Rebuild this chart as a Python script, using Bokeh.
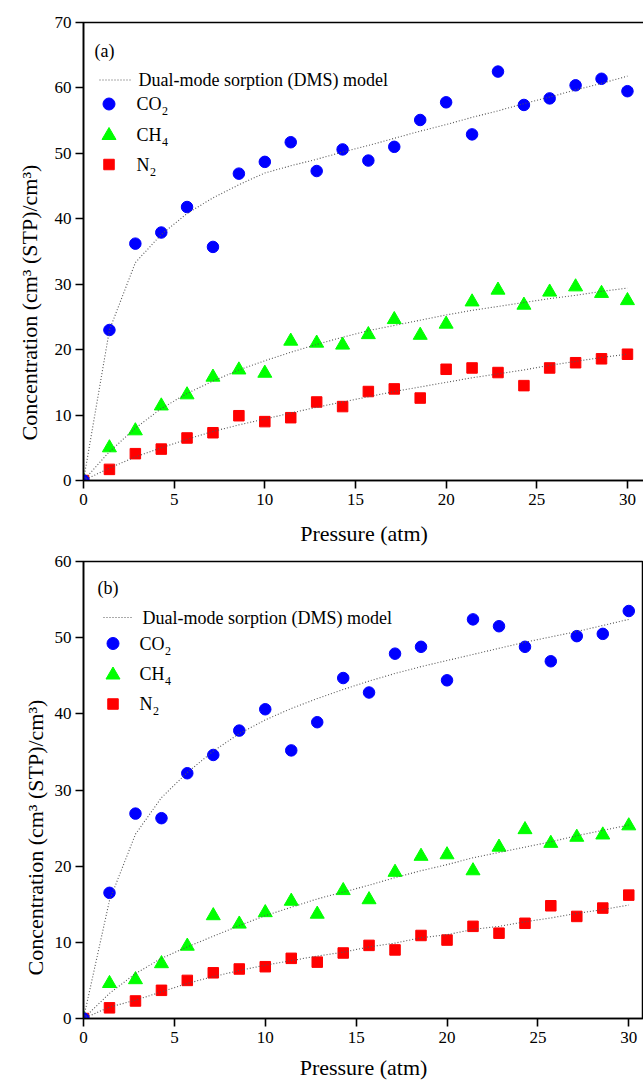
from bokeh.plotting import figure
from bokeh.models import Range1d, FixedTicker, Label, Arrow, BoxAnnotation, PolyAnnotation, Title
from bokeh.layouts import column
from bokeh.embed import file_html
from bokeh.resources import INLINE

# ---------------- data ----------------
pressure = [0, 1.43, 2.86, 4.29, 5.71, 7.14, 8.57, 10.0, 11.43, 12.86, 14.29,
            15.71, 17.14, 18.57, 20.0, 21.43, 22.86, 24.29, 25.71, 27.14, 28.57, 30.0]

# panel (a)
co2_a = [0, 23.0, 36.2, 37.9, 41.8, 35.7, 46.9, 48.7, 51.7, 47.3, 50.6,
         48.9, 51.0, 55.1, 57.8, 52.9, 62.5, 57.4, 58.4, 60.4, 61.4, 59.5]
ch4_a = [0, 5.0, 7.6, 11.4, 13.1, 15.8, 16.9, 16.4, 21.3, 21.0, 20.7,
         22.3, 24.6, 22.2, 23.9, 27.3, 29.1, 26.8, 28.8, 29.6, 28.6, 27.5]
n2_a = [0, 1.7, 4.1, 4.8, 6.5, 7.3, 9.9, 9.0, 9.6, 12.0, 11.3,
        13.6, 14.0, 12.6, 17.0, 17.2, 16.5, 14.5, 17.2, 18.0, 18.6, 19.3]
dms_co2_a = [0, 23.0, 33.3, 37.6, 40.8, 43.2, 45.2, 47.0, 48.1, 49.1, 50.2,
             51.2, 52.3, 53.4, 54.4, 55.5, 56.5, 57.6, 58.6, 59.7, 60.7, 61.8]
dms_ch4_a = [0, 4.4, 8.0, 11.0, 13.3, 15.2, 16.9, 18.3, 19.6, 20.8, 21.9,
             22.9, 23.7, 24.5, 25.3, 26.0, 26.6, 27.2, 27.8, 28.3, 28.9, 29.4]
dms_n2_a = [0, 1.9, 3.6, 5.0, 6.3, 7.5, 8.5, 9.4, 10.3, 11.2, 12.0,
            12.8, 13.6, 14.3, 15.0, 15.7, 16.3, 16.9, 17.6, 18.2, 18.8, 19.3]

# panel (b)
co2_b = [0, 16.5, 26.9, 26.3, 32.2, 34.6, 37.8, 40.6, 35.2, 38.9, 44.7,
         42.8, 47.9, 48.8, 44.4, 52.4, 51.5, 48.8, 46.9, 50.2, 50.5, 53.5]
ch4_b = [0, 4.6, 5.1, 7.2, 9.5, 13.5, 12.4, 13.9, 15.4, 13.7, 16.8,
         15.6, 19.2, 21.3, 21.5, 19.4, 22.5, 24.8, 23.0, 23.8, 24.1, 25.3]
n2_b = [0, 1.4, 2.3, 3.7, 5.0, 6.0, 6.5, 6.8, 7.9, 7.4, 8.6,
        9.6, 9.0, 10.9, 10.3, 12.1, 11.2, 12.5, 14.8, 13.4, 14.5, 16.2]
dms_co2_b = [0, 15.5, 24.2, 29.0, 32.3, 35.1, 37.4, 39.2, 40.7, 42.0, 43.2,
             44.3, 45.3, 46.2, 47.0, 47.8, 48.6, 49.4, 50.1, 50.8, 51.6, 52.4]
dms_ch4_b = [0, 3.3, 5.9, 7.9, 9.4, 10.8, 12.2, 13.5, 14.6, 15.7, 16.6,
             17.5, 18.5, 19.4, 20.2, 21.1, 21.8, 22.5, 23.2, 24.0, 24.7, 25.4]
dms_n2_b = [0, 1.5, 2.4, 3.5, 4.6, 5.5, 6.3, 7.0, 7.6, 8.2, 8.7,
            9.4, 9.9, 10.6, 11.0, 11.7, 12.1, 12.7, 13.2, 13.8, 14.3, 14.9]

x_ticks = [0, 5, 10, 15, 20, 25, 30]
y_ticks_a = [0, 10, 20, 30, 40, 50, 60, 70]
y_ticks_b = [0, 10, 20, 30, 40, 50, 60]

model_label = "Dual-mode sorption (DMS) model"
gas_names = [("CO", "2"), ("CH", "4"), ("N", "2")]
x_title = "Pressure (atm)"
y_title = "Concentration (cm\u00b3 (STP)/cm\u00b3)"

# ---------------- styling ----------------
FONT = "'Liberation Serif'"
BLUE, GREEN, RED = "#0000FF", "#00FF00", "#FF0000"
DMS_COLOR = "#555555"
DMS_DASH = "1 2"


def make_panel(tag, co2, ch4, n2, dco2, dch4, dn2, y_ticks, ymax, xmax,
               fw, fh, bl, br, bt, bb, leg):
    p = figure(frame_width=fw, frame_height=fh, min_border_left=bl,
               min_border_right=br, min_border_top=bt, min_border_bottom=bb,
               x_range=Range1d(0, xmax), y_range=Range1d(0, ymax),
               output_backend="svg", toolbar_location=None,
               background_fill_color="white", border_fill_color="white")
    p.grid.visible = False
    p.outline_line_color = "black"
    p.outline_line_width = 1.5
    p.outline_line_alpha = 1

    for ax in (p.xaxis[0], p.yaxis[0]):
        ax.axis_line_width = 1.6
        ax.axis_line_color = "black"
        ax.major_tick_line_width = 1.6
        ax.major_tick_in = 0
        ax.major_tick_out = 8
        ax.minor_tick_line_color = None
        ax.major_label_text_font = FONT
        ax.major_label_text_font_size = "17px"
        ax.major_label_text_color = "black"
        ax.axis_label_text_font = FONT
        ax.axis_label_text_font_style = "normal"
        ax.axis_label_text_font_size = "22px"
        ax.axis_label_text_color = "black"
    p.xaxis[0].ticker = FixedTicker(ticks=x_ticks)
    p.yaxis[0].ticker = FixedTicker(ticks=y_ticks)
    p.xaxis[0].major_label_standoff = 5
    p.yaxis[0].major_label_standoff = 4
    p.xaxis[0].axis_label = x_title
    p.xaxis[0].axis_label_standoff = leg["xlab_standoff"]

    # y title: the reference places it below the frame centre
    p.add_layout(Title(text=y_title, align="left", offset=leg["ytitle_offset"],
                       standoff=leg["ytitle_standoff"], vertical_align="middle",
                       text_font=FONT, text_font_size="22px", text_font_style="normal",
                       text_color="black"), "left")

    # data points
    p.scatter(pressure, n2, marker="square", size=10.5, color=RED)
    p.scatter(pressure, ch4, marker="triangle", size=14, color=GREEN)
    p.scatter(pressure, co2, marker="circle", size=11.5, color=BLUE)
    # DMS model curves
    for d in (dco2, dch4, dn2):
        p.line(pressure, d, line_color=DMS_COLOR, line_width=1.1, line_dash=DMS_DASH)

    # ----- legend (screen units relative to the frame) -----
    def sy(y_from_top):
        return fh - y_from_top

    p.add_layout(Label(x=leg["tag_x"], y=sy(leg["tag_y"]), x_units="screen", y_units="screen",
                       text=tag, text_font=FONT, text_font_size="18px",
                       text_baseline="middle", text_align="left", text_color="black"))
    r0, r1, r2, r3 = leg["rows"]
    p.add_layout(Arrow(x_start=leg["line_x0"], y_start=sy(r0), x_end=leg["line_x1"], y_end=sy(r0),
                       start_units="screen", end_units="screen", end=None,
                       line_color=DMS_COLOR, line_width=1.1, line_dash=DMS_DASH))
    p.add_layout(Label(x=leg["text_x0"], y=sy(r0), x_units="screen", y_units="screen",
                       text=model_label, text_font=FONT, text_font_size="18px",
                       text_baseline="middle", text_align="left", text_color="black"))
    mx = leg["marker_x"]
    r = 6
    p.add_layout(BoxAnnotation(left=mx - r, right=mx + r, bottom=sy(r1) - r, top=sy(r1) + r,
                               left_units="screen", right_units="screen",
                               bottom_units="screen", top_units="screen",
                               fill_color=BLUE, fill_alpha=1, line_color=BLUE, line_alpha=1,
                               border_radius=r))
    p.add_layout(PolyAnnotation(xs=[mx - 7, mx + 7, mx], ys=[sy(r2) - 5, sy(r2) - 5, sy(r2) + 7],
                                xs_units="screen", ys_units="screen",
                                fill_color=GREEN, fill_alpha=1, line_color=GREEN, line_alpha=1))
    s = 5.25
    p.add_layout(BoxAnnotation(left=mx - s, right=mx + s, bottom=sy(r3) - s, top=sy(r3) + s,
                               left_units="screen", right_units="screen",
                               bottom_units="screen", top_units="screen",
                               fill_color=RED, fill_alpha=1, line_color=RED, line_alpha=1))
    widths = [25.0, 25.0, 13.0]
    for (main, sub), row, w in zip(gas_names, (r1, r2, r3), widths):
        p.add_layout(Label(x=leg["text_x"], y=sy(row), x_units="screen", y_units="screen",
                           text=main, text_font=FONT, text_font_size="18px",
                           text_baseline="middle", text_align="left", text_color="black"))
        p.add_layout(Label(x=leg["text_x"] + w + 0.5, y=sy(row + 7), x_units="screen", y_units="screen",
                           text=sub, text_font=FONT, text_font_size="12px",
                           text_baseline="middle", text_align="left", text_color="black"))
    return p


leg_a = dict(tag_x=11, tag_y=28, rows=(57.5, 81.5, 112, 142), line_x0=16, line_x1=47,
             text_x0=55, text_x=53, marker_x=25.5, xlab_standoff=13,
             ytitle_offset=40, ytitle_standoff=18)
leg_b = dict(tag_x=14, tag_y=26, rows=(56, 82, 112.5, 142.5), line_x0=20, line_x1=49,
             text_x0=59, text_x=56, marker_x=29.5, xlab_standoff=9,
             ytitle_offset=43, ytitle_standoff=6)

p1 = make_panel("(a)", co2_a, ch4_a, n2_a, dms_co2_a, dms_ch4_a, dms_n2_a,
                y_ticks_a, 70, 30.94, fw=561, fh=458, bl=81, br=1, bt=22, bb=71, leg=leg_a)
p2 = make_panel("(b)", co2_b, ch4_b, n2_b, dms_co2_b, dms_ch4_b, dms_n2_b,
                y_ticks_b, 60, 30.81, fw=560, fh=457, bl=83, br=0, bt=10, bb=66, leg=leg_b)

layout = column(p1, p2, spacing=0)
open("out.html", "w").write(file_html(layout, INLINE))
